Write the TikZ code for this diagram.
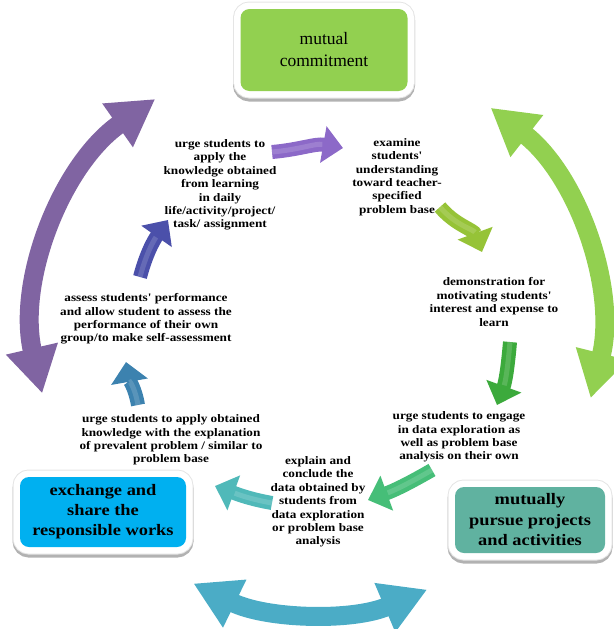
\documentclass[tikz,border=0pt]{standalone}
\usepackage{fontspec}
\setmainfont{Liberation Serif}
\newfontfamily\widefont[FakeStretch=1.15]{Liberation Serif}
\usetikzlibrary{arrows.meta,positioning}

\definecolor{arcpurple}{RGB}{128,100,162}
\definecolor{arcgreen}{RGB}{146,208,80}
\definecolor{arcblue}{RGB}{75,172,198}
\definecolor{commitgreen}{RGB}{146,208,80}
\definecolor{sharecyan}{RGB}{0,176,240}
\definecolor{pursueteal}{RGB}{96,178,160}
\definecolor{flowA}{RGB}{140,105,200}
\definecolor{flowB}{RGB}{150,195,55}
\definecolor{flowC}{RGB}{60,170,60}
\definecolor{flowD}{RGB}{70,190,120}
\definecolor{flowE}{RGB}{80,185,185}
\definecolor{flowF}{RGB}{60,130,175}
\definecolor{flowG}{RGB}{75,80,170}

\begin{document}
\begin{tikzpicture}
[x=1pt,y=-1pt,
lab/.style={font=\widefont\bfseries\fontsize{11.5}{13.4}\selectfont,align=center,inner sep=0pt},
phase/.style={rounded corners=9pt,inner sep=0pt,align=center,
  preaction={draw=black!30,line width=15pt,transform canvas={yshift=-3pt}},
  preaction={draw=gray!20,line width=15pt},
  preaction={draw=white,line width=13pt}},
bigarc/.style={line width=19pt,arrows={Triangle[width=50pt,length=46pt]-Triangle[width=50pt,length=46pt]}},
flow/.style={line width=14pt,arrows={-Triangle[width=36pt,length=20pt]},
  postaction={draw=white,opacity=.15,line width=5pt,-,shorten >=21pt}}]
\useasboundingbox (0,0) rectangle (613,629);
%%%%%%%%%%
%% outer cycle
\coordinate (hub) at (317,330);
\draw[bigarc,arcpurple] (hub) ++(235:282) arc[start angle=235,end angle=167,radius=282];
\draw[bigarc,arcgreen] (hub) ++(-52:282) arc[start angle=-52,end angle=14,radius=282];
\draw[bigarc,arcblue] (hub) ++(116:282) arc[start angle=116,end angle=67,radius=282];
%% phases
\node[phase,fill=commitgreen,minimum width=167pt,minimum height=82pt,
  font=\fontsize{17.5}{22}\selectfont] (commit) at (324,50) {mutual\\commitment};
\node[phase,fill=sharecyan,minimum width=166pt,minimum height=70pt,
  font=\widefont\bfseries\fontsize{16}{20}\selectfont] (share) at (103,512)
  {exchange and\\share the\\responsible works};
\node[phase,fill=pursueteal,minimum width=150pt,minimum height=66pt,
  font=\widefont\bfseries\fontsize{16}{20.5}\selectfont] (pursue) at (530,520)
  {mutually\\pursue projects\\and activities};
%%%%%%%%%%
%% steps
\node[lab] (apply) at (220,185) {urge students to\\apply the\\knowledge obtained\\from learning\\in daily\\life/activity/project/\\task/ assignment};
\node[lab] (examine) at (397,177) {examine\\students'\\understanding\\toward teacher-\\specified\\problem base};
\node[lab] (demo) at (494,302) {demonstration for\\motivating students'\\interest and expense to\\learn};
\node[lab] (engage) at (459,437) {urge students to engage\\in data exploration as\\well as problem base\\analysis on their own};
\node[lab] (explain) at (318,502) {explain and\\conclude the\\data obtained by\\students from\\data exploration\\or problem base\\analysis};
\node[lab] (relate) at (171,440) {urge students to apply obtained\\knowledge with the explanation\\of prevalent problem / similar to\\problem base};
\node[lab] (assess) at (146,319) {assess students' performance\\and allow student to assess the\\performance of their own\\group/to make self-assessment};
%% step arrows
\coordinate (s1) at (272,152); \coordinate (e1) at (343,148);
\coordinate (s2) at (440,207); \coordinate (e2) at (482,252);
\coordinate (s3) at (510,342); \coordinate (e3) at (497,405);
\coordinate (s4) at (432,470); \coordinate (e4) at (368,500);
\coordinate (s5) at (272,503); \coordinate (e5) at (215,486);
\coordinate (s6) at (138,405); \coordinate (e6) at (126,362);
\coordinate (s7) at (140,277); \coordinate (e7) at (168,220);
\draw[flow,flowA] (s1) to[out=5,in=170] (e1);
\draw[flow,flowB] (s2) to[out=-50,in=110] (e2);
\draw[flow,flowC] (s3) to[out=-95,in=70] (e3);
\draw[flow,flowD] (s4) to[out=-150,in=20] (e4);
\draw[flow,flowE] (s5) to[out=170,in=-20] (e5);
\draw[flow,flowF] (s6) to[out=100,in=-80] (e6);
\draw[flow,flowG] (s7) to[out=75,in=-125] (e7);
\end{tikzpicture}
\end{document}
